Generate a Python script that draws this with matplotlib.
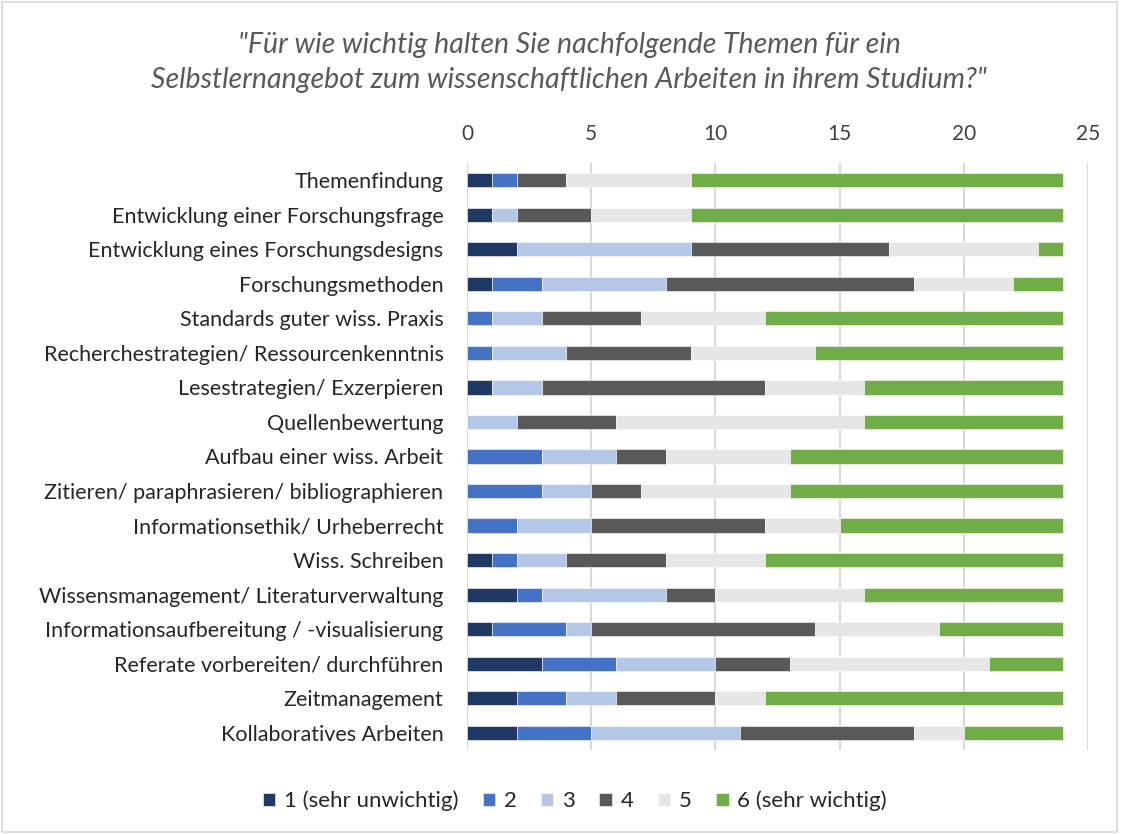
import matplotlib
matplotlib.use("Agg")
import matplotlib.pyplot as plt
from matplotlib.patches import Rectangle
import numpy as np

plt.rcParams['font.family'] = ['Lato', 'DejaVu Sans']

categories = [
    "Themenfindung",
    "Entwicklung einer Forschungsfrage",
    "Entwicklung eines Forschungsdesigns",
    "Forschungsmethoden",
    "Standards guter wiss. Praxis",
    "Recherchestrategien/ Ressourcenkenntnis",
    "Lesestrategien/ Exzerpieren",
    "Quellenbewertung",
    "Aufbau einer wiss. Arbeit",
    "Zitieren/ paraphrasieren/ bibliographieren",
    "Informationsethik/ Urheberrecht",
    "Wiss. Schreiben",
    "Wissensmanagement/ Literaturverwaltung",
    "Informationsaufbereitung / -visualisierung",
    "Referate vorbereiten/ durchführen",
    "Zeitmanagement",
    "Kollaboratives Arbeiten",
]

s1 = [1, 1, 2, 1, 0, 0, 1, 0, 0, 0, 0, 1, 2, 1, 3, 2, 2]
s2 = [1, 0, 0, 2, 1, 1, 0, 0, 3, 3, 2, 1, 1, 3, 3, 2, 3]
s3 = [0, 1, 7, 5, 2, 3, 2, 2, 3, 2, 3, 2, 5, 1, 4, 2, 6]
s4 = [2, 3, 8, 10, 4, 5, 9, 4, 2, 2, 7, 4, 2, 9, 3, 4, 7]
s5 = [5, 4, 6, 4, 5, 5, 4, 10, 5, 6, 3, 4, 6, 5, 8, 2, 2]
s6 = [15, 15, 1, 2, 12, 10, 8, 8, 11, 11, 9, 12, 8, 5, 3, 12, 4]

series_labels = ["1 (sehr unwichtig)", "2", "3", "4", "5", "6 (sehr wichtig)"]
colors = ["#203864", "#4472C4", "#B4C7E7", "#595959", "#E7E6E6", "#70AD47"]
xticks = [0, 5, 10, 15, 20, 25]

fig = plt.figure(figsize=(11.27, 8.34), dpi=100)
ax = fig.add_axes([467/1127, 1 - 750/834, (1088-467)/1127, (750-163)/834])

y = np.arange(len(categories))
left = np.zeros(len(categories))
for vals, lab, col in zip([s1, s2, s3, s4, s5, s6], series_labels, colors):
    v = np.array(vals, dtype=float)
    ax.barh(y, v, left=left, height=0.41, color=col, label=lab,
            edgecolor="white", linewidth=0.4, zorder=3)
    left += v

ax.set_xlim(0, 25)
ax.set_ylim(len(categories) - 0.5, -0.5)
ax.set_yticks(y)
ax.set_yticklabels(categories, fontsize=15.5, color="#262626")
ax.set_xticks(xticks)
ax.xaxis.tick_top()
ax.tick_params(axis='x', labelsize=15, colors="#404040", length=0, pad=14)
ax.tick_params(axis='y', length=0, pad=17)
ax.grid(axis='x', color="#D9D9D9", linewidth=1.5, zorder=0)
for s in ax.spines.values():
    s.set_visible(False)

fig.text(0.505, 1 - 45/834, "\"Für wie wichtig halten Sie nachfolgende Themen für ein",
         ha='center', va='center', fontsize=20.5, style='italic', color="#595959")
fig.text(0.505, 1 - 80/834, "Selbstlernangebot zum wissenschaftlichen Arbeiten in ihrem Studium?\"",
         ha='center', va='center', fontsize=20.5, style='italic', color="#595959")

leg = fig.legend(loc='center', bbox_to_anchor=(0.51, 1 - 801/834), ncol=6,
                 frameon=False, fontsize=16, handlelength=0.55, handleheight=0.55,
                 handletextpad=0.4, columnspacing=1.1)
for t in leg.get_texts():
    t.set_color("#262626")

fig.patches.append(Rectangle((2/1127, 2/834), 1 - 12/1127, 1 - 4/834,
                             transform=fig.transFigure, fill=False,
                             edgecolor="#D9D9D9", linewidth=1.2))

fig.savefig("out.png", dpi=100, facecolor="white")
